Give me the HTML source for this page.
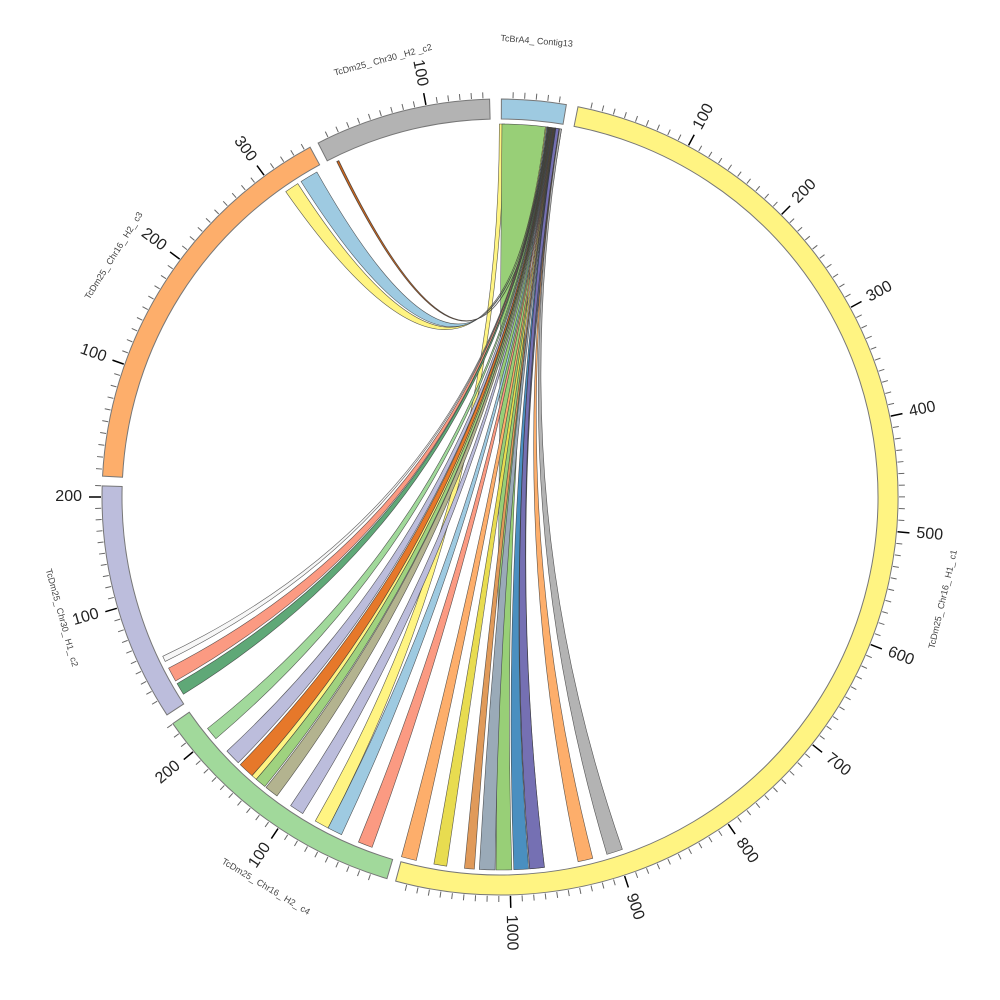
<!DOCTYPE html>
<html><head><meta charset="utf-8"><style>
html,body{margin:0;padding:0;background:#fff;width:1000px;height:1000px;overflow:hidden}
svg text{font-family:"Liberation Sans","DejaVu Sans",sans-serif}
</style></head><body>
<svg id="s" width="1000" height="1000" viewBox="0 0 1000 1000" xmlns="http://www.w3.org/2000/svg">
<g id="rib"></g>
<g id="ideo"></g>
<g id="ticks"></g>
<g font-size="16" fill="#222" dominant-baseline="middle">
<text transform="translate(500,497) rotate(-61.8) translate(418,0)">100</text>
<text transform="translate(500,497) rotate(-45.1) translate(418,0)">200</text>
<text transform="translate(500,497) rotate(-28.4) translate(418,0)">300</text>
<text transform="translate(500,497) rotate(-11.7) translate(418,0)">400</text>
<text transform="translate(500,497) rotate(5) translate(418,0)">500</text>
<text transform="translate(500,497) rotate(21.7) translate(418,0)">600</text>
<text transform="translate(500,497) rotate(38.4) translate(418,0)">700</text>
<text transform="translate(500,497) rotate(55.1) translate(418,0)">800</text>
<text transform="translate(500,497) rotate(71.8) translate(418,0)">900</text>
<text transform="translate(500,497) rotate(88.5) translate(418,0)">1000</text>
<text text-anchor="end" transform="translate(500,497) rotate(123.8) translate(418,0) rotate(180)">100</text>
<text text-anchor="end" transform="translate(500,497) rotate(140.3) translate(418,0) rotate(180)">200</text>
<text text-anchor="end" transform="translate(500,497) rotate(163.8) translate(418,0) rotate(180)">100</text>
<text text-anchor="end" transform="translate(500,497) rotate(180) translate(418,0) rotate(180)">200</text>
<text text-anchor="end" transform="translate(500,497) rotate(199.45) translate(418,0) rotate(180)">100</text>
<text text-anchor="end" transform="translate(500,497) rotate(216.6) translate(418,0) rotate(180)">200</text>
<text text-anchor="end" transform="translate(500,497) rotate(233.75) translate(418,0) rotate(180)">300</text>
<text text-anchor="end" transform="translate(500,497) rotate(259.3) translate(418,0) rotate(180)">100</text>
</g>
<g font-size="9" fill="#444" text-anchor="middle" dominant-baseline="middle">
<text transform="translate(500,497) rotate(4.6) translate(0,-457)">TcBrA4_ Contig13</text>
<text transform="translate(500,497) rotate(345) translate(0,-452)">TcDm25_ Chr30 _H2 _c2</text>
<text transform="translate(500,497) rotate(302) translate(0,-455)">TcDm25_ Chr16_ H2_ c3</text>
<text transform="translate(500,497) rotate(254.6) translate(0,-455) rotate(180)">TcDm25_ Chr30_ H1_ c2</text>
<text transform="translate(500,497) rotate(211) translate(0,-455) rotate(180)">TcDm25_ Chr16_ H2_ c4</text>
<text transform="translate(500,497) rotate(103) translate(0,-455) rotate(180)">TcDm25_ Chr16_ H1_ c1</text>
</g>
</svg>
<script>
var cx=500,cy=497,NS="http://www.w3.org/2000/svg";
function P(a,r){var t=a*Math.PI/180;return [cx+r*Math.sin(t),cy-r*Math.cos(t)];}
function f(p){return p[0].toFixed(2)+","+p[1].toFixed(2);}
function ang(x,y){var a=Math.atan2(x-cx,-(y-cy))*180/Math.PI;if(a<0)a+=360;return a;}
function add(g,tag,at){var e=document.createElementNS(NS,tag);for(var k in at)e.setAttribute(k,at[k]);document.getElementById(g).appendChild(e);return e;}
var R1=378,R2=398;
var ideos=[[0.2,9.6,"#9ecae1"],[11.3,195.2,"#fff482"],[196.5,235.3,"#a1d99b"],[236.8,271.6,"#bcbddc"],[273,331.5,"#fdae6b"],[332.8,358.5,"#b3b3b3"]];
ideos.forEach(function(d){var l=(d[1]-d[0])>180?1:0;
add("ideo","path",{d:"M"+f(P(d[0],R2))+" A"+R2+" "+R2+" 0 "+l+" 1 "+f(P(d[1],R2))+" L"+f(P(d[1],R1))+" A"+R1+" "+R1+" 0 "+l+" 0 "+f(P(d[0],R1))+" Z",fill:d[2],stroke:"#777","stroke-width":1});});
var tk=[[0.2,0.167,56],[11.5,0.167,1095],[197.3,0.165,230],[237.6,0.162,210],[272.3,0.1715,345],[332.8,0.165,155]];
tk.forEach(function(t){for(var u=10;u<=t[2];u+=10){var a=t[0]+u*t[1];var maj=(u%100==0);
add("ticks","line",{x1:P(a,R2+1)[0],y1:P(a,R2+1)[1],x2:P(a,maj?R2+13:R2+7)[0],y2:P(a,maj?R2+13:R2+7)[1],stroke:maj?"#000":"#666","stroke-width":maj?1.5:1});}});
var RR=373;
function ribbon(a1,a2,b1,b2,col,sw){
var c=cx+","+cy;
var d="M"+f(P(a1,RR))+" A"+RR+" "+RR+" 0 0 1 "+f(P(a2,RR))+" Q"+c+" "+f(P(b1,RR))+" A"+RR+" "+RR+" 0 0 1 "+f(P(b2,RR))+" Q"+c+" "+f(P(a1,RR))+" Z";
add("rib","path",{d:d,fill:col,stroke:"#333","stroke-width":sw||0.6,"stroke-opacity":0.8});}
function bang(p){var x=ang(p[0],p[1]),y=ang(p[2],p[3]);return x<y?[x,y]:[y,x];}
var fans=[
[[157,659,160,664],"#f7f7f7"],
[[165,670,172,683],"#fb9a82"],
[[173,686,179,697],"#5fa877"],
[[203,732,212,742],"#a1d99b"],
[[226,752,236,765],"#bcbddc"],
[[238,767,250,778],"#e6782a"],
[[250,778,254,782],"#fff482"],
[[254,782,262,790],"#9fd27f"],
[[264,790,274,800],"#b3b38f"],
[[289,808,300,818],"#bcbddc"],
[[326,832,340,838],"#9ecae1"],
[[356,848,370,853],"#fb9a82"],
[[400,862,415,866],"#fdae6b"],
[[433,869,446,871],"#e8dc50"],
[[464,873,474,874],"#e09a5a"],
[[479,875,495,875],"#9aaab8"],
[[514,875,529,874],"#4a8fc0"],
[[530,874,545,872],"#7570b3"],
[[579,866,594,863],"#fdae6b"],
[[608,858,624,854],"#b3b3b3"]];
var by=bang([313,825,326,832]);ribbon(359.9,0.7,by[0],by[1],"#fff482");
var bg=bang([496,875,512,875]);ribbon(0.3,7.0,bg[0],bg[1],"#98cf77");
var pb=bang([530,874,545,872]);ribbon(8.5,9.5,pb[0],pb[1],"#5a5f7a");
var ly=bang([286,192,298,184]);ribbon(7.0,7.15,ly[0],ly[1],"#fff482");
var lb=bang([302,183,318,174]);ribbon(7.15,7.3,lb[0],lb[1],"#9ecae1");
var ll=bang([336,160,338,159]);ribbon(7.3,7.34,ll[0],ll[1],"#d2691e",0.8);
var a=7.34;
fans.forEach(function(fa){var w=fa[1]=="#7570b3"?0.5:(fa[1]=="#b3b3b3"?0.3:0.075);var b=bang(fa[0]);ribbon(a,a+w,b[0],b[1],fa[1]);a+=w;});
</script>
</body></html>
